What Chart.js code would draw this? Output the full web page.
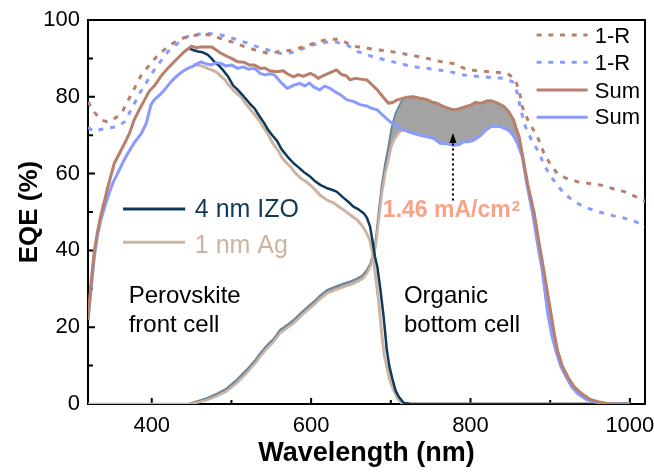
<!DOCTYPE html>
<html>
<head>
<meta charset="utf-8">
<script src="https://cdn.jsdelivr.net/npm/chart.js@4/dist/chart.umd.min.js"></script>
<style>
  html, body { margin: 0; padding: 0; background: #ffffff; }
  #wrap { width: 654px; height: 472px; }
</style>
</head>
<body>
<div id="wrap"><canvas id="eqe" width="654" height="472"></canvas></div>
<script>
// ---- axis ticks ----
const xTickValues = [400, 600, 800, 1000];
const xMinorValues = [500, 700, 900];
const yTickValues = [0, 20, 40, 60, 80, 100];
const yMinorValues = [10, 30, 50, 70, 90];

// ---- 1-R (reflectance) curves ----
const reflIzoNm = [320,328,336,344,351,358,364,374,387,398,408,420,433,445,458,470,480,492,505,517,530,546,561,578,590,603,620,636,645,653,665,678,693,708,722,737,752,766,780,796,810,825,846,855,861,865,873,884,892,900,909,920,934,950,964,980,993,1007,1020];
const reflIzoEqe = [78.7,76,74,73.5,74,75,76.5,80.5,85.7,88.5,90.9,93,94.8,95.7,96.1,96.2,95.6,94.8,94,93,92.2,91.3,91.8,92.2,93,93.9,95,95,94,93.2,92.8,92.4,92,91.5,91,90.4,89.7,89,88.6,87,86.8,86.5,86.1,84.8,81.8,77.4,73.5,69.6,65.4,62.5,60,58.8,57.9,57.4,57,56,55.3,54,52.7];

const reflAgNm = [320,328,336,345,357,366,374,386,403,420,433,445,458,471,487,505,521,533,546,561,575,586,598,611,628,645,658,678,703,728,754,775,791,816,842,853,859,863,869,876,886,893,901,917,930,942,955,967,980,993,1007,1020];
const reflAgEqe = [72,70.9,71.5,71.9,72.2,73.5,76.6,81.3,87,91.7,94,95.7,96.3,96.5,96.1,95,93.9,93,92.2,91.3,91.5,92.2,93.3,94,94.4,93.5,91.8,90.4,89.1,87.8,87.2,86.5,85.7,85.2,84.8,83.9,80.9,76.6,72.2,69,65.4,62,59.2,54.9,52.8,51.4,50.4,49.7,49,48.4,47.5,46.2];

// ---- Sum EQE (front + bottom) ----
const sumIzoNm = [320,324,328,332,336,345,353,360,366,372,378,384,391,397,404,412,420,430,441,450,456,462,470,475,481,487,495,500,508,516,522,529,536,542,548,557,565,570,578,584,590,599,604,609,616,624,632,638,644,649,655,662,670,676,683,690,697,703,708,715,720,728,737,745,752,758,765,772,779,786,792,800,806,813,820,825,831,838,843,848,854,857,861,866,872,880,886,892,897,901,905,909,915,922,930,939,950,960,970,980,1000];
const sumIzoEqe = [22,32,40,45,49,56.6,62.7,65.5,67.9,70.5,74,76.5,79.2,81.5,83,85.5,87.4,89.5,91.8,93.2,92.8,93,93,93,92.2,91.3,90.5,90,89.1,89,88.3,88.3,87.4,87.5,86.8,86.5,86.8,86,85.2,85.8,85.3,86.1,85.6,84.8,85.6,86.3,87,85.8,85.5,84.4,84.8,84.6,84.4,83.2,81.8,80,78.3,78.6,79.2,79.6,79.9,80,79.6,79.3,78.6,78.3,77.6,77,76.6,76.9,77.3,77.8,78.5,78.3,78.9,79,78.6,77.9,77.3,76.1,74,72,69.6,64,57,49.7,42,34.9,28.5,23.6,18.5,14.1,10,7.1,4.5,2.8,1.2,0.6,0.2,0,0];

const sumAgNm = [320,324,328,332,336,345,351,357,364,370,378,387,393,399,403,410,416,424,432,440,445,452,458,462,468,475,481,487,493,500,508,515,521,529,536,542,548,554,562,570,578,586,592,598,603,611,617,624,630,637,645,653,662,670,676,683,690,699,707,716,726,737,746,754,762,770,779,786,791,796,803,808,813,819,825,831,838,845,850,855,859,865,871,878,884,890,897,902,907,913,920,927,934,945,955,965,975,1000];
const sumAgEqe = [21.9,30,38.4,44,47.9,54,57.5,60,63,65.3,68,70.5,73,77.9,79.2,80.5,81.8,83.9,85.5,86.8,87.4,88,88.7,89.1,88.6,88.3,88.9,88.7,88,88.3,87.4,87.8,87.2,87.4,86.1,85.7,86,85.7,83.8,82.2,83,83.5,82.8,83.6,82.6,81.8,82.8,82.2,81.3,80.5,79.2,78.8,77.9,77.6,77,76.6,75.2,73.5,72.4,71.4,70.6,70,69.6,69.2,67.9,67.8,67.4,67.6,68.3,68.3,68.6,69.3,70,71.3,72.2,72.4,72.2,71.6,70.9,69.5,67.9,64.4,57,49.7,42,34.9,23.6,18,14,10,7.1,4.5,2.8,1.2,0.6,0.2,0,0];

// ---- perovskite front cell ----
const frontIzoNm = [446,452,458,464,470,475,479,485,490,496,502,507,512,518,524,529,535,541,546,552,557,563,570,578,585,592,599,605,612,620,626,632,640,647,653,660,666,670,674,677,680,683,687,691,695,698,702,706,710,716,725,1000];
const frontIzoEqe = [92.6,92.2,91.8,91.6,91,90,89,88,86.8,85.2,83,82,80.9,79.5,78,77,75,73.2,71.4,69.8,68.6,66.3,64.5,62.7,61.5,60.2,59.2,58,57,56.2,55.8,55.3,53.8,52.6,51.4,50.6,49.7,48.5,46.2,42.5,38.5,35.8,29.7,22.7,14.1,10,6.5,3.5,1.9,0.3,0,0];

const frontAgNm = [452,458,463,470,475,481,487,492,497,502,507,512,518,524,529,535,541,546,552,558,564,568,574,580,587,593,599,605,612,620,628,634,641,648,658,664,670,674,677,681,685,689,692,695,699,704,709,714,720,1000];
const frontAgEqe = [88.4,88.3,88,87.4,87,86.5,85.3,84.4,83,81.8,80.8,80,78.2,76.6,75.4,73.8,71.8,70.2,67.9,66.2,64,63,61.8,60.2,58.8,58,57,55.8,54.2,53.1,52.4,51.5,50.5,49.4,47.9,46.4,44.4,42.5,39.5,33.1,26.2,17.5,12.5,9.7,6,3.4,1.3,0.2,0,0];

// ---- organic bottom cell (rising part; beyond the front-cell cutoff it follows the Sum trace) ----
const bottomIzoNm = [320,446,458,469,481,494,506,519,530,536,544,553,561,570,578,590,603,612,620,631,641,650,658,665,670,674,677,681,685,689,693,697,701,706,712,716];
const bottomIzoEqe = [0,0,0.8,1.5,2.6,4.1,6.2,8.9,11.5,13.2,15.2,17,19.3,20.6,21.9,24.3,26.6,28.4,29.7,30.6,31.4,32,32.7,33.6,34.9,36.5,38.4,42.7,50.5,57.5,62.7,67,72,75.7,78.3,79.6];
const bottomAgNm = [320,448,460,469,481,494,506,519,530,536,544,553,561,570,578,590,603,612,620,631,641,650,658,665,670,674,677,681,685,689,693,697,700,704,708,712];
const bottomAgEqe = [0,0,0.5,1,2,3.3,5.3,8,10.6,12.3,14.3,16.2,18.4,19.8,21,23.4,25.7,27.5,28.8,29.7,30.5,31.1,31.8,32.7,34,35.6,37.6,41,48,55,60,63.5,66.5,68.8,70,71];

// ---- current gain label and arrow (data coordinates) ----
const gainLabel = '1.46 mA/cm';
const gainPos = { x: 690, y: 48.7 };
const arrowNm = 778;
const arrowFrom = 53;
const arrowTo = 70.6;

const FONT = "'Liberation Sans', Arial, Helvetica, sans-serif";
const COL = {
  brown: '#b8806b', blue: '#8a9bff', navy: '#0e3a5b', tan: '#cbb4a3',
  steel: '#6b879b', fill: 'rgba(150,150,150,0.88)', salmon: '#f8a286'
};

const pts = (nm, v) => nm.map((w, i) => ({ x: w, y: v[i] }));
const sumIzo = pts(sumIzoNm, sumIzoEqe);
const sumAg = pts(sumAgNm, sumAgEqe);
const bottomIzo = pts(bottomIzoNm, bottomIzoEqe).concat(sumIzo.filter(p => p.x >= 720));
const bottomAg = pts(bottomAgNm, bottomAgEqe).concat(sumAg.filter(p => p.x >= 716));

const line = (data, color, width, order, extra) => Object.assign({
  data, borderColor: color, backgroundColor: color, borderWidth: width,
  pointRadius: 0, fill: false, order, borderJoinStyle: 'round'
}, extra || {});

const datasets = [
  line(sumIzo, COL.brown, 3, 0),                                         // 0
  line(sumAg, COL.blue, 3, 1),                                           // 1
  line(pts(reflIzoNm, reflIzoEqe), COL.brown, 3, 2, { borderDash: [5, 7] }), // 2
  line(pts(reflAgNm, reflAgEqe), COL.blue, 3, 3, { borderDash: [5, 7] }),    // 3
  line(pts(frontIzoNm, frontIzoEqe), COL.navy, 2.5, 4),                  // 4
  line(pts(frontAgNm, frontAgEqe), COL.tan, 3, 5),                       // 5
  line(bottomAg, COL.tan, 2.5, 6),                                       // 6
  line(bottomIzo, COL.steel, 2, 7, { fill: { target: 6 }, backgroundColor: COL.fill }) // 7
];

// frame with inward tick marks, drawn under the curves
const framePlugin = {
  id: 'frame',
  beforeDatasetsDraw(chart) {
    const { ctx, chartArea: a, scales: { x, y } } = chart;
    ctx.save();
    ctx.strokeStyle = '#000';
    ctx.lineWidth = 2;
    ctx.strokeRect(a.left, a.top, a.right - a.left, a.bottom - a.top);
    ctx.beginPath();
    xTickValues.forEach(v => { const p = x.getPixelForValue(v); ctx.moveTo(p, a.bottom); ctx.lineTo(p, a.bottom - 6); });
    xMinorValues.forEach(v => { const p = x.getPixelForValue(v); ctx.moveTo(p, a.bottom); ctx.lineTo(p, a.bottom - 4); });
    yTickValues.forEach(v => { const p = y.getPixelForValue(v); ctx.moveTo(a.left, p); ctx.lineTo(a.left + 7, p); });
    yMinorValues.forEach(v => { const p = y.getPixelForValue(v); ctx.moveTo(a.left, p); ctx.lineTo(a.left + 5, p); });
    ctx.stroke();
    ctx.restore();
  }
};

// in-plot legends, labels and the arrow
const notesPlugin = {
  id: 'notes',
  afterDatasetsDraw(chart) {
    const { ctx, scales: { x, y } } = chart;
    const X = v => x.getPixelForValue(v);
    const Y = v => y.getPixelForValue(v);
    ctx.save();

    const sample = (x1, x2, yv, color, width, dash) => {
      ctx.beginPath();
      ctx.setLineDash(dash || []);
      ctx.strokeStyle = color; ctx.lineWidth = width;
      ctx.moveTo(X(x1), Y(yv)); ctx.lineTo(X(x2), Y(yv));
      ctx.stroke();
      ctx.setLineDash([]);
    };
    const text = (t, xv, yv, color, size, weight) => {
      ctx.font = (weight || 'normal') + ' ' + size + 'px ' + FONT;
      ctx.fillStyle = color;
      ctx.textAlign = 'left';
      ctx.textBaseline = 'alphabetic';
      ctx.fillText(t, X(xv), Y(yv));
    };

    // left legend
    sample(364, 442, 50.8, COL.navy, 3);
    text('4 nm IZO', 454, 48.8, COL.navy, 25);
    sample(364, 442, 42.1, COL.tan, 3);
    text('1 nm Ag', 454, 39.4, COL.tan, 25);

    // right legend
    sample(883, 947, 96.1, COL.brown, 3, [5, 6.7]);
    text('1-R', 956, 93.9, '#000', 22);
    sample(883, 947, 89.0, COL.blue, 3, [5, 6.7]);
    text('1-R', 956, 86.9, '#000', 22);
    sample(883, 947, 81.8, COL.brown, 3);
    text('Sum', 956, 79.8, '#000', 22);
    sample(883, 947, 74.7, COL.blue, 3);
    text('Sum', 956, 72.8, '#000', 22);

    // cell labels
    text('Perovskite', 371, 26.3, '#000', 24);
    text('front cell', 371, 18.8, '#000', 24);
    text('Organic', 716.5, 26.3, '#000', 24);
    text('bottom cell', 716.5, 18.8, '#000', 24);

    // current gain label with superscript
    text(gainLabel, gainPos.x, gainPos.y, COL.salmon, 23, 'bold');
    const w = ctx.measureText(gainLabel).width;
    ctx.font = 'bold 15px ' + FONT;
    ctx.fillText('2', X(gainPos.x) + w + 1, Y(gainPos.y) - 6);

    // dotted arrow
    const ax = X(arrowNm), y0 = Y(arrowFrom), y1 = Y(arrowTo);
    ctx.beginPath();
    ctx.setLineDash([2, 3]);
    ctx.strokeStyle = '#000'; ctx.lineWidth = 2;
    ctx.moveTo(ax, y0); ctx.lineTo(ax, y1 + 9);
    ctx.stroke();
    ctx.setLineDash([]);
    ctx.beginPath();
    ctx.fillStyle = '#000';
    ctx.moveTo(ax, y1); ctx.lineTo(ax - 3.5, y1 + 10); ctx.lineTo(ax + 3.5, y1 + 10);
    ctx.closePath(); ctx.fill();

    ctx.restore();
  }
};

new Chart(document.getElementById('eqe'), {
  type: 'line',
  data: { datasets },
  options: {
    responsive: false,
    animation: false,
    devicePixelRatio: 1,
    layout: { padding: { top: 20, right: 9, left: 0, bottom: 0 } },
    elements: { point: { radius: 0 }, line: { tension: 0 } },
    plugins: {
      legend: { display: false },
      tooltip: { enabled: false },
      filler: { drawTime: 'beforeDatasetsDraw' }
    },
    scales: {
      x: {
        type: 'linear', min: 320, max: 1019,
        grid: { display: false, drawTicks: false },
        border: { display: false },
        afterBuildTicks: s => { s.ticks = xTickValues.map(v => ({ value: v })); },
        afterFit: s => { s.height = 68; s.paddingLeft = 0; s.paddingRight = 0; },
        ticks: { font: { family: FONT, size: 22 }, color: '#000', padding: 9, maxRotation: 0,
                 autoSkip: false, callback: v => String(v) },
        title: { display: true, text: 'Wavelength (nm)', color: '#000',
                 font: { family: FONT, size: 27, weight: 'bold' }, padding: { top: 0, bottom: 2 } }
      },
      y: {
        type: 'linear', min: 0, max: 100,
        grid: { display: false, drawTicks: false },
        border: { display: false },
        afterBuildTicks: s => { s.ticks = yTickValues.map(v => ({ value: v })); },
        afterFit: s => { s.width = 88; s.paddingTop = 0; s.paddingBottom = 0; },
        ticks: { font: { family: FONT, size: 22 }, color: '#000', padding: 8, callback: v => String(v) },
        title: { display: true, text: 'EQE (%)', color: '#000',
                 font: { family: FONT, size: 26, weight: 'bold' }, padding: { top: 14, bottom: 0 } }
      }
    }
  },
  plugins: [framePlugin, notesPlugin]
});
</script>
</body>
</html>
